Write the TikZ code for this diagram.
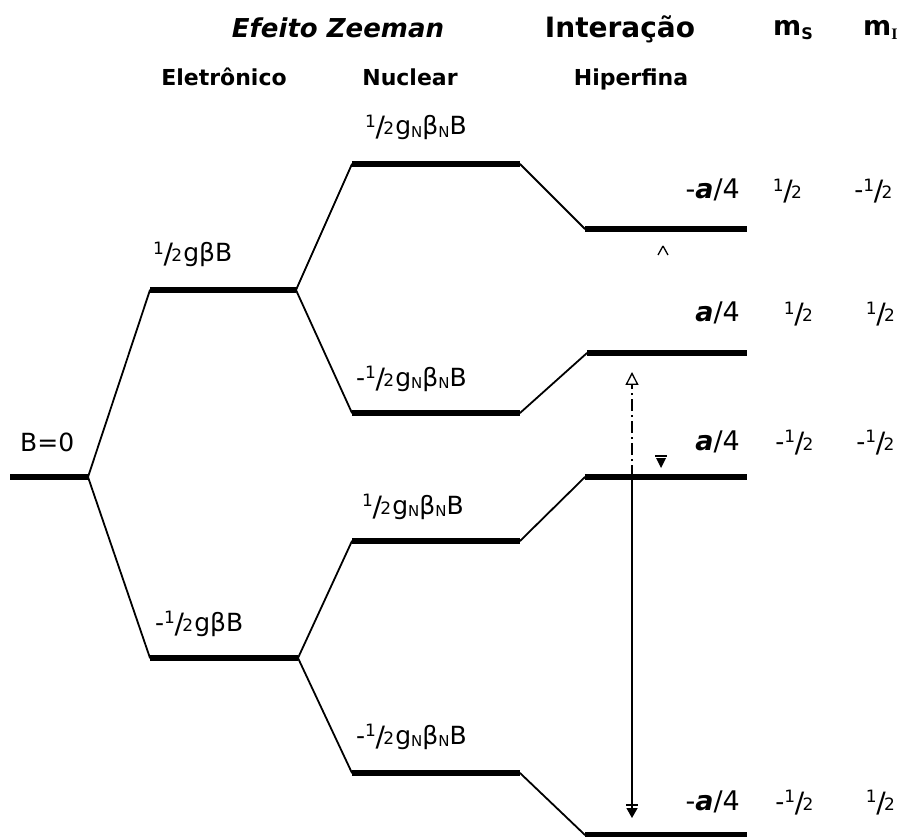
\documentclass[tikz,border=0pt]{standalone}
\usepackage{fontspec}
\setmainfont{DejaVu Sans}
\newfontfamily\lbl{DejaVu Sans}
\newfontfamily\serifI{Liberation Serif}
\usetikzlibrary{arrows.meta}

% small lowered subscripts
\newcommand\subN{\raisebox{-2.5pt}{\fontsize{15}{15}\selectfont N}}
\newcommand\msub[1]{\raisebox{-4pt}{\fontsize{16}{16}\selectfont #1}}
% built-up one half with full-height slash
\newcommand\hf{\mbox{\raisebox{7.5pt}{\fontsize{17}{17}\selectfont 1}\kern-0.5pt\raisebox{-2pt}{\fontsize{28}{28}\selectfont /}\kern-1.5pt{\fontsize{17}{17}\selectfont 2}\kern1pt}}

\tikzset{
  level/.style={line width=6pt, line cap=butt},
  link/.style={line width=1.8pt, line cap=round},
  lab/.style={font=\lbl\fontsize{25}{25}\selectfont, anchor=base west, inner sep=0pt},
  en/.style={font=\lbl\fontsize{27}{27}\selectfont, anchor=base east, inner sep=0pt},
  qn/.style={font=\lbl\fontsize{25}{25}\selectfont, anchor=base, inner sep=0pt},
  hdr/.style={font=\bfseries\fontsize{22}{22}\selectfont, anchor=base, inner sep=0pt},
  big/.style={font=\bfseries\fontsize{28}{28}\selectfont, anchor=base, inner sep=0pt},
  trans/.style={line width=1.3pt},
}

\begin{document}
\begin{tikzpicture}[x=1pt,y=-1pt]
\useasboundingbox (0,0) rectangle (906,837);

% energy level end points
\coordinate (z0a) at (10,477);  \coordinate (z0b) at (88,477);
\coordinate (eua) at (150,290); \coordinate (eub) at (296,290);
\coordinate (ela) at (150,658); \coordinate (elb) at (298,658);
\coordinate (n1a) at (352,164); \coordinate (n1b) at (520,164);
\coordinate (n2a) at (352,413); \coordinate (n2b) at (520,413);
\coordinate (n3a) at (352,541); \coordinate (n3b) at (520,541);
\coordinate (n4a) at (352,773); \coordinate (n4b) at (520,773);
\coordinate (h1a) at (585,229); \coordinate (h1b) at (747,229);
\coordinate (h2a) at (587,353); \coordinate (h2b) at (747,353);
\coordinate (h3a) at (585,477); \coordinate (h3b) at (747,477);
\coordinate (h4a) at (585,835); \coordinate (h4b) at (747,835);

% levels
\foreach \p in {z0,eu,el,n1,n2,n3,n4,h1,h2,h3,h4}
  \draw[level] (\p a) -- (\p b);

% splittings
\draw[link] (z0b) -- (eua);
\draw[link] (z0b) -- (ela);
\draw[link] (eub) -- (n1a);
\draw[link] (eub) -- (n2a);
\draw[link] (elb) -- (n3a);
\draw[link] (elb) -- (n4a);
\draw[link] (n1b) -- (h1a);
\draw[link] (n2b) -- (h2a);
\draw[link] (n3b) -- (h3a);
\draw[link] (n4b) -- (h4a);

% transitions
\coordinate (t0) at (632,477);
\coordinate (tup) at (632,372);
\coordinate (tdn) at (632,818);
\draw[trans, dash pattern=on 12pt off 4pt on 2pt off 4pt,
      -{Triangle[open,length=13pt,width=13pt]}] (t0) -- (tup);
\draw[trans, -{Triangle[length=10pt,width=11pt]}] (t0) -- (tdn);
\draw[line width=1.3pt] (tdn) ++(-6,-13) -- ++(12,0);
\coordinate (m1) at (661,468);
\coordinate (m2) at (663,246);
\fill (m1) -- ++(-5,-10) -- ++(10,0) -- cycle;
\draw[line width=1.3pt] (m1) ++(-6,-12) -- ++(12,0);
\draw[line width=1.3pt] (m2) -- ++(-5,9) (m2) -- ++(5,9);

% headers
\node[big, font=\bfseries\itshape\fontsize{26}{26}\selectfont] (hz) at (338,38) {Efeito Zeeman};
\node[big] (hi) at (620,38) {Interação};
\node[big, font=\bfseries\fontsize{27}{27}\selectfont, anchor=base west] (hms) at (773,36) {m\msub{S}};
\node[big, font=\bfseries\fontsize{27}{27}\selectfont, anchor=base west] (hmi) at (863,36) {m\msub{\serifI\bfseries I}};
\node[hdr] (he) at (224,86) {Eletrônico};
\node[hdr] (hn) at (410,86) {Nuclear};
\node[hdr] (hh) at (631,86) {Hiperfina};

% level labels
\node[lab] (l1) at (365,135) {\hf g\subN β\subN B};
\node[lab] (l2) at (153,262) {\hf gβB};
\node[lab] (l3) at (356,386) {-\hf g\subN β\subN B};
\node[lab] (l4) at (20,451) {B=0};
\node[lab] (l5) at (362,514) {\hf g\subN β\subN B};
\node[lab] (l6) at (155,631) {-\hf gβB};
\node[lab] (l7) at (356,744) {-\hf g\subN β\subN B};

% hyperfine energies and quantum numbers
\node[en] (e1) at (740,199) {-\textbf{\textit{a}}/4};
\node[en] (e2) at (740,322) {\textbf{\textit{a}}/4};
\node[en] (e3) at (740,450) {\textbf{\textit{a}}/4};
\node[en] (e4) at (740,810) {-\textbf{\textit{a}}/4};

\node[qn] (s1) at (788,199) {\hf};   \node[qn] (i1) at (874,199) {-\hf};
\node[qn] (s2) at (799,322) {\hf};   \node[qn] (i2) at (881,322) {\hf};
\node[qn] (s3) at (795,450) {-\hf};  \node[qn] (i3) at (876,450) {-\hf};
\node[qn] (s4) at (795,810) {-\hf};  \node[qn] (i4) at (881,810) {\hf};
\end{tikzpicture}
\end{document}
